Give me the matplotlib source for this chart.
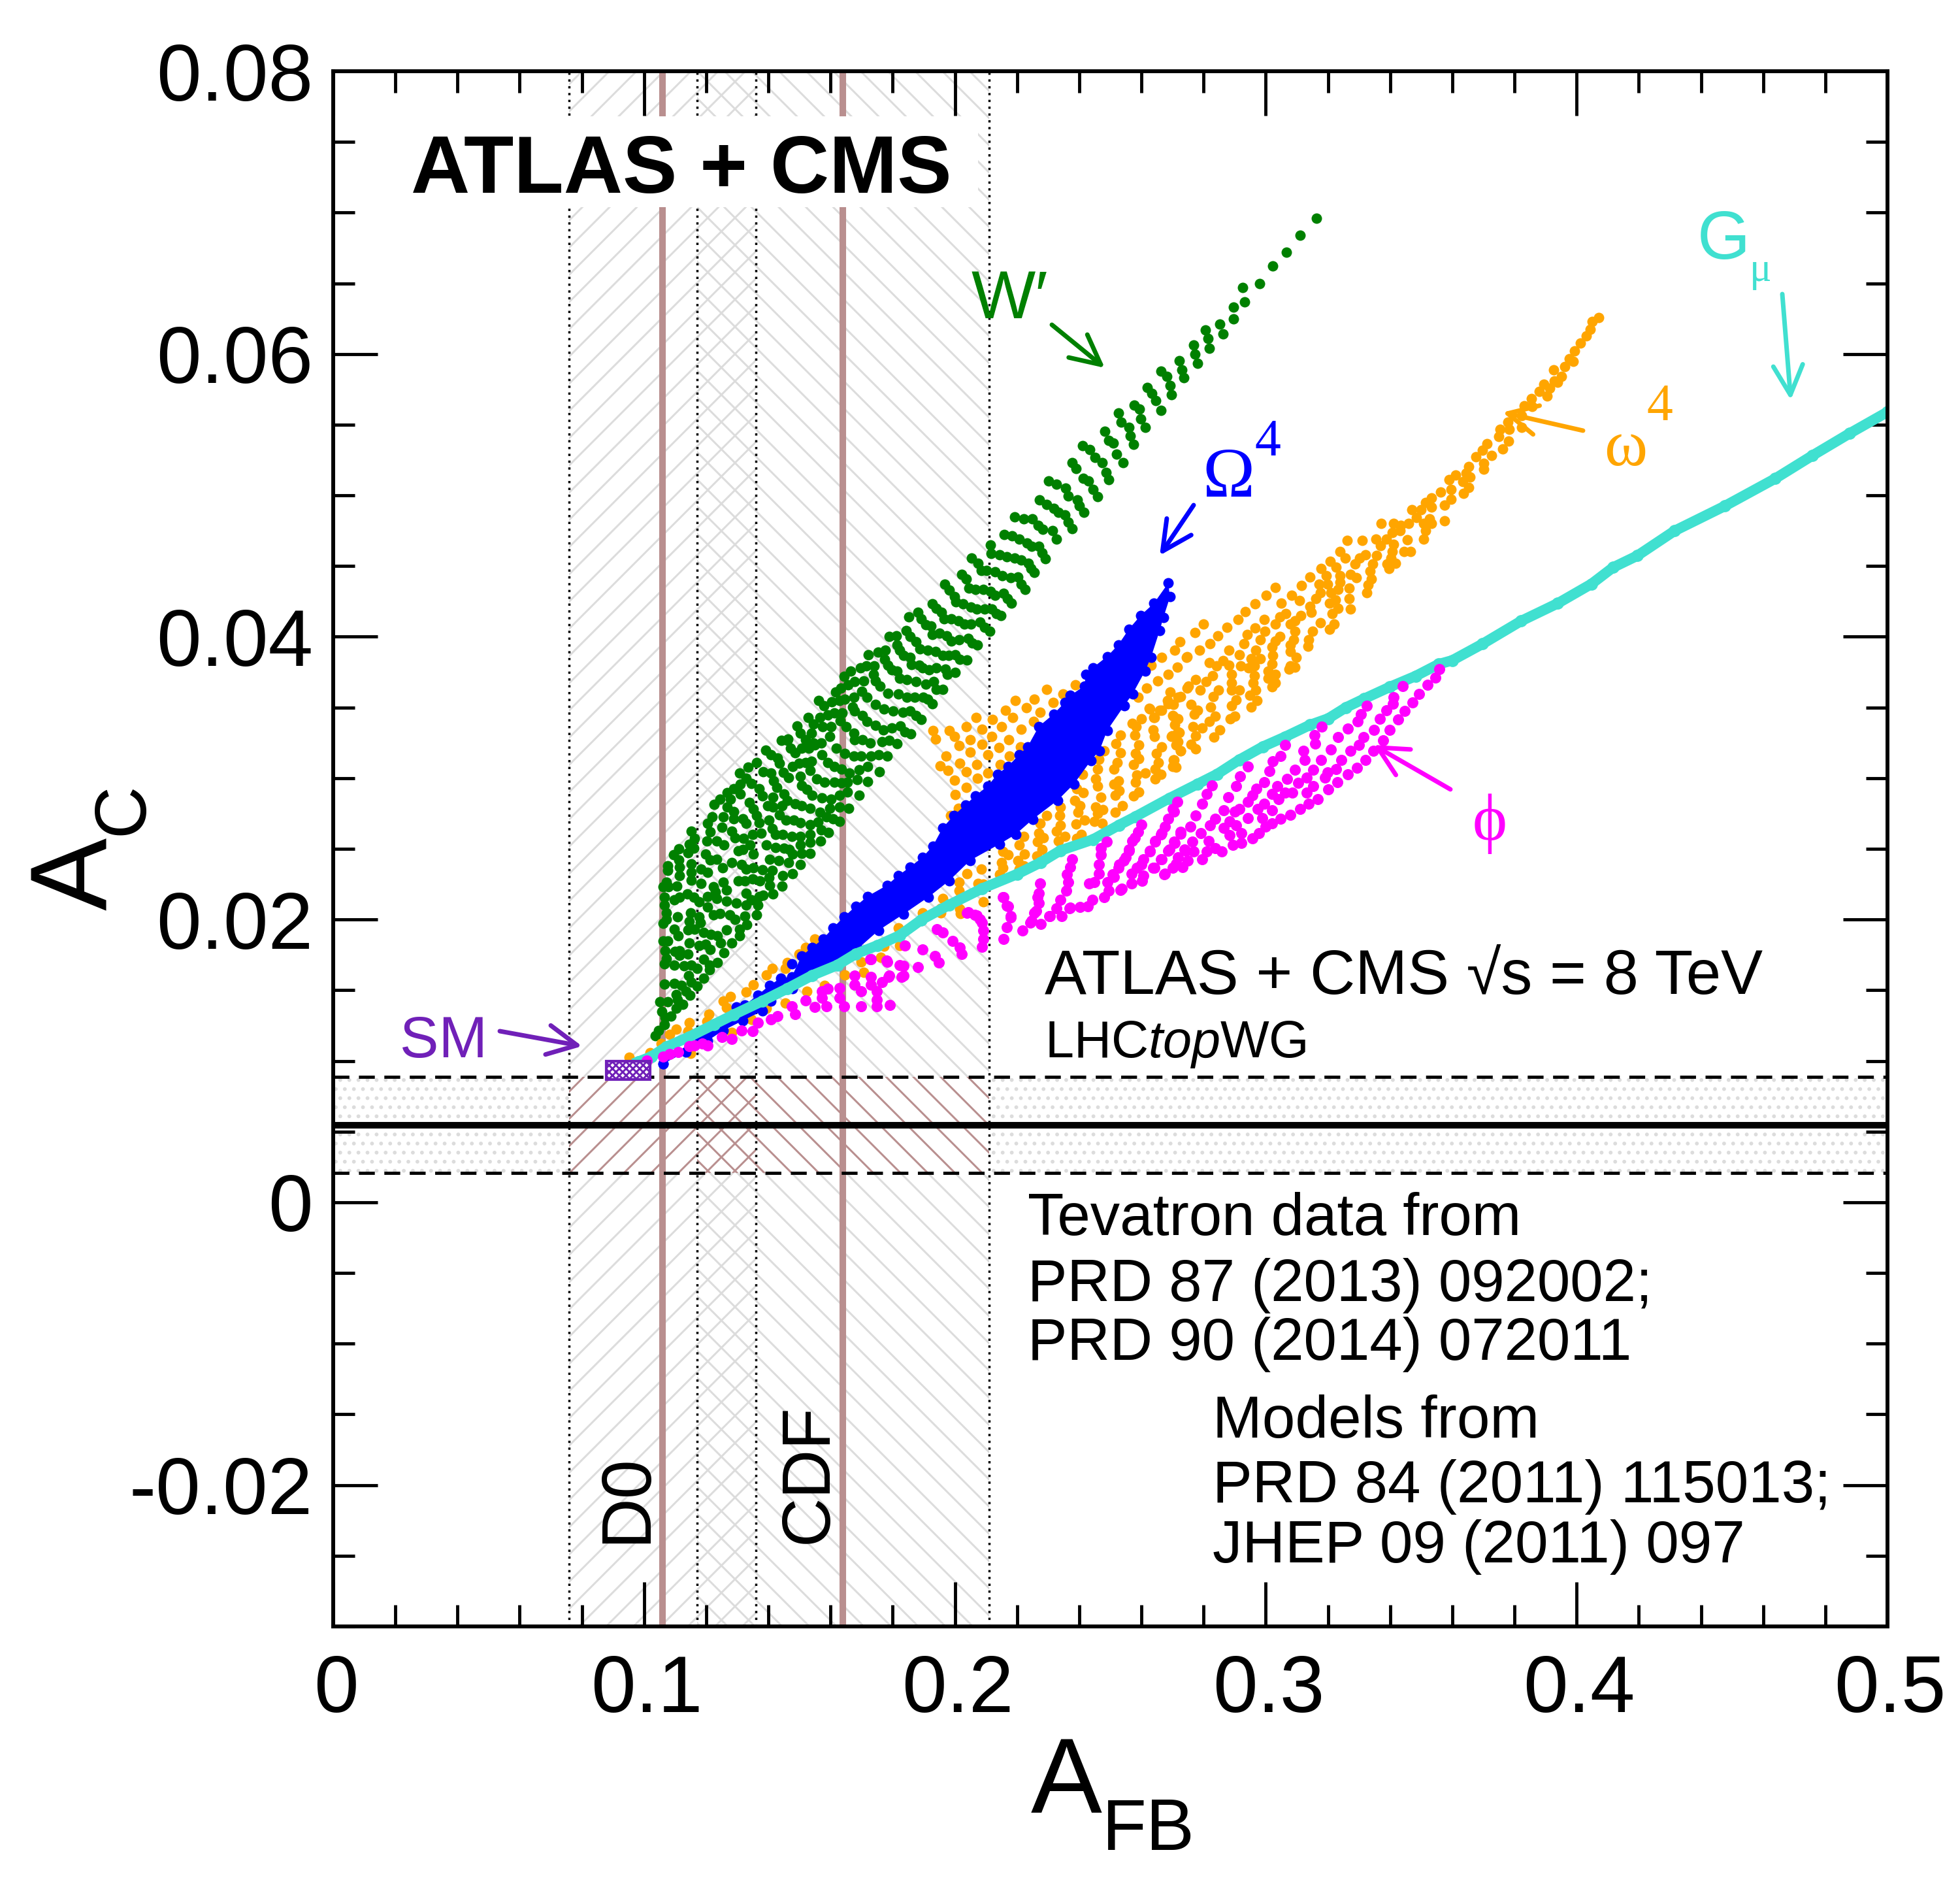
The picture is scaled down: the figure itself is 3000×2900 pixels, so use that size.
import numpy as np
import matplotlib
matplotlib.use("Agg")
import matplotlib.pyplot as plt
from matplotlib.patches import Rectangle
from matplotlib.transforms import ScaledTranslation

plt.rcParams['font.family'] = ['Liberation Sans', 'DejaVu Sans']
plt.rcParams['axes.unicode_minus'] = False
plt.rcParams['hatch.linewidth'] = 0.86
plt.rcParams['mathtext.fontset'] = 'custom'
plt.rcParams['mathtext.rm'] = 'Liberation Sans'
plt.rcParams['mathtext.it'] = 'Liberation Sans:italic'

# measured bands and lines
d0_central, d0_low, d0_high = 0.106, 0.0759, 0.136
cdf_central, cdf_low, cdf_high = 0.164, 0.117, 0.211
lhc_central, lhc_low, lhc_high = 0.00546, 0.00208, 0.00888
sm_box = (0.0878, 0.102, 0.0087, 0.0100)

x_ticks = [0, 0.1, 0.2, 0.3, 0.4, 0.5]
x_tick_labels = ['0', '0.1', '0.2', '0.3', '0.4', '0.5']
y_ticks = [-0.02, 0, 0.02, 0.04, 0.06, 0.08]
y_tick_labels = ['-0.02', '0', '0.02', '0.04', '0.06', '0.08']

# model scans, (A_FB, A_C)
wprime = [
(.3163,.06959),(.3111,.06839),(.3066,.06719),(.3022,.06622),(.2980,.06497),(.2926,.06469),(.2932,.06367),(.2896,.06330),(.2896,.06247),
(.2852,.06210),(.2862,.06141),(.2806,.06168),(.2814,.06108),(.2818,.06039),(.2768,.06062),(.2772,.05997),(.2781,.05933),
(.2722,.05951),(.2730,.05886),(.2736,.05831),(.2663,.05877),(.2682,.05840),(.2692,.05775),(.2696,.05711),(.2619,.05762),
(.2633,.05720),(.2646,.05669),(.2663,.05600),(.2577,.05637),(.2594,.05609),(.2598,.05540),(.2612,.05480),(.2526,.05582),
(.2535,.05517),(.2560,.05480),(.2564,.05420),(.2575,.05360),(.2482,.05452),(.2495,.05387),(.2509,.05369),(.2520,.05290),
(.2541,.05230),(.2411,.05350),(.2434,.05322),(.2451,.05267),(.2474,.05230),(.2486,.05160),(.2495,.05110),(.2377,.05230),
(.2390,.05188),(.2413,.05119),(.2430,.05100),(.2444,.05040),(.2459,.04990),(.2301,.05100),(.2327,.05077),(.2356,.05049),
(.2364,.04998),(.2394,.04970),(.2400,.04925),(.2415,.04878),(.2272,.04966),(.2295,.04938),(.2318,.04906),(.2333,.04878),
(.2354,.04860),(.2364,.04809),(.2377,.04767),(.2192,.04846),(.2221,.04832),(.2249,.04832),(.2268,.04786),(.2282,.04758),
(.2314,.04749),(.2327,.04693),(.2158,.04721),(.2184,.04712),(.2207,.04689),(.2232,.04661),(.2247,.04638),(.2270,.04638),
(.2280,.04596),(.2291,.04550),(.2114,.04647),(.2116,.04587),(.2144,.04582),(.2167,.04564),(.2192,.04555),(.2213,.04541),
(.2236,.04518),(.2245,.04485),(.2255,.04453),(.2053,.04559),(.2074,.04518),(.2085,.04467),(.2102,.04471),(.2129,.04458),
(.2152,.04430),(.2180,.04420),(.2203,.04425),(.2213,.04370),(.2226,.04337),(.2022,.04439),(.2037,.04407),(.2045,.04346),
(.2066,.04337),(.2091,.04337),(.2114,.04323),(.2129,.04291),(.2156,.04305),(.2169,.04268),(.2182,.04236),(.1967,.04370),
(.1982,.04328),(.1999,.04286),(.2003,.04245),(.2026,.04231),(.2051,.04208),(.2070,.04194),(.2095,.04198),(.2119,.04194),
(.2133,.04162),(.2148,.04148),(.1927,.04231),(.1940,.04203),(.1957,.04171),(.1965,.04125),(.1988,.04129),(.2011,.04111),
(.2030,.04088),(.2051,.04088),(.2081,.04102),(.2095,.04065),(.2112,.04037),(.1852,.04139),(.1881,.04171),(.1892,.04129),
(.1906,.04083),(.1923,.04074),(.1927,.04014),(.1950,.04023),(.1974,.04009),(.1988,.03968),(.2013,.03977),(.2043,.03986),
(.2055,.03954),(.2072,.03940),(.1789,.04000),(.1812,.04009),(.1843,.04046),(.1856,.04000),(.1875,.03963),(.1887,.03912),
(.1913,.03907),(.1938,.03898),(.1961,.03870),(.1980,.03870),(.2001,.03875),(.2016,.03842),(.2039,.03838),(.1721,.03875),
(.1753,.03893),(.1776,.03907),(.1814,.03944),(.1822,.03907),(.1835,.03870),(.1856,.03852),(.1860,.03805),(.1885,.03801),
(.1896,.03782),(.1917,.03768),(.1940,.03778),(.1969,.03773),(.1976,.03732),(.2001,.03750),(.1665,.03759),(.1644,.03718),
(.1696,.03778),(.1715,.03792),(.1740,.03796),(.1774,.03842),(.1784,.03801),(.1797,.03768),(.1814,.03755),(.1822,.03704),
(.1845,.03699),(.1875,.03685),(.1906,.03667),(.1931,.03685),(.1940,.03630),(.1961,.03630),(.1616,.03607),(.1633,.03639),
(.1656,.03662),(.1677,.03681),(.1707,.03690),(.1738,.03732),(.1745,.03690),(.1759,.03653),(.1784,.03602),(.1818,.03597),
(.1845,.03570),(.1871,.03570),(.1898,.03574),(.1913,.03560),(.1927,.03528),(.1562,.03547),(.1578,.03510),(.1604,.03542),
(.1629,.03551),(.1646,.03560),(.1675,.03570),(.1700,.03616),(.1717,.03574),(.1745,.03523),(.1772,.03491),(.1801,.03477),
(.1833,.03468),(.1856,.03473),(.1875,.03445),(.1892,.03417),(.1528,.03431),(.1545,.03385),(.1566,.03431),(.1591,.03449),
(.1612,.03463),(.1637,.03463),(.1671,.03505),(.1677,.03473),(.1702,.03445),(.1717,.03399),(.1745,.03375),(.1770,.03343),
(.1797,.03357),(.1824,.03371),(.1839,.03329),(.1858,.03315),(.1492,.03371),(.1503,.03320),(.1520,.03274),(.1538,.03320),
(.1574,.03362),(.1602,.03362),(.1631,.03408),(.1650,.03362),(.1675,.03320),(.1677,.03274),(.1702,.03274),(.1728,.03251),
(.1765,.03260),(.1789,.03269),(.1814,.03246),(.1461,.03269),(.1597,.03297),(.1545,.03251),(.1570,.03251),
(.1442,.03269),(.1463,.03278),(.1471,.03214),(.1486,.03181),(.1507,.03214),(.1530,.03214),(.1549,.03237),(.1572,.03167),
(.1591,.03112),(.1612,.03084),(.1635,.03066),(.1660,.03038),(.1618,.03214),(.1646,.03177),(.1675,.03158),(.1698,.03154),
(.1730,.03158),(.1755,.03167),(.1782,.03154),(.1391,.03200),(.1408,.03167),(.1429,.03144),(.1435,.03107),(.1448,.03043),
(.1465,.03006),(.1477,.03084),(.1498,.03107),(.1520,.03112),(.1538,.03121),(.1534,.03056),(.1503,.03015),(.1507,.02950),
(.1524,.02922),(.1541,.02881),(.1555,.02996),(.1580,.02973),(.1612,.02973),(.1635,.02969),(.1654,.02973),(.1692,.03061),
(.1719,.03084),(.1757,.03047),(.1686,.02992),(.1719,.02978),(.1572,.02862),(.1602,.02853),(.1629,.02881),(.1654,.02904),
(.1692,.02881),(.1597,.02788),(.1629,.02797),(.1658,.02788),(.1566,.02760),(.1587,.02728),(.1608,.02714),(.1629,.02696),
(.1362,.03112),(.1383,.03047),(.1408,.03038),(.1417,.02982),(.1427,.02936),(.1335,.03079),(.1307,.03038),(.1328,.03001),
(.1345,.02964),(.1370,.02927),(.1381,.02876),(.1398,.02807),(.1309,.02959),(.1288,.02927),(.1267,.02899),(.1414,.02867),
(.1450,.02890),(.1461,.02844),(.1486,.02821),(.1507,.02807),(.1534,.02788),(.1414,.02797),(.1444,.02807),(.1435,.02742),
(.1456,.02705),(.1482,.02705),(.1503,.02686),(.1244,.02853),(.1225,.02816),(.1278,.02853),(.1267,.02797),(.1288,.02765),
(.1288,.02714),(.1318,.02714),(.1328,.02682),(.1309,.02890),(.1339,.02830),(.1351,.02784),(.1362,.02737),(.1370,.02686),
(.1402,.02705),(.1412,.02645),(.1423,.02603),(.1446,.02603),(.1475,.02589),(.1503,.02589),(.1534,.02603),(.1534,.02673),
(.1559,.02691),(.1593,.02617),(.1570,.02636),(.1534,.02548),(.1568,.02557),(.1219,.02728),(.1204,.02682),(.1255,.02728),
(.1250,.02654),(.1282,.02626),(.1293,.02580),(.1320,.02576),(.1349,.02603),(.1377,.02613),(.1213,.02622),(.1202,.02557),
(.1234,.02557),(.1257,.02529),(.1393,.02529),(.1423,.02511),(.1450,.02506),(.1467,.02497),(.1503,.02529),(.1507,.02469),
(.1534,.02469),(.1477,.02465),(.1152,.02626),(.1162,.02576),(.1145,.02534),(.1160,.02506),(.1141,.02474),(.1112,.02502),
(.1095,.02460),(.1112,.02423),(.1198,.02465),(.1213,.02423),(.1234,.02428),(.1253,.02367),(.1282,.02404),(.1303,.02488),
(.1318,.02497),(.1341,.02529),(.1351,.02465),(.1404,.02428),(.1433,.02418),(.1446,.02312),(.1477,.02326),(.1503,.02391),
(.1465,.02404),(.1314,.02391),(.1328,.02358),(.1351,.02367),(.1381,.02354),(.1412,.02349),(.1402,.02298),(.1303,.02275),
(.1324,.02275),(.1349,.02289),(.1372,.02275),(.1404,.02243),(.1444,.02238),(.1414,.02182),(.1383,.02173),(.1370,.02164),
(.1076,.02381),(.1076,.02349),(.1114,.02372),(.1152,.02395),(.1152,.02335),(.1114,.02312),(.1183,.02358),(.1204,.02335),
(.1072,.02266),(.1061,.02233),(.1078,.02233),(.1105,.02238),(.1152,.02280),(.1183,.02257),(.1223,.02233),(.1255,.02266),
(.1265,.02210),(.1139,.02182),(.1160,.02159),(.1177,.02127),(.1204,.02164),(.1097,.02141),(.1114,.02159),(.1066,.02159),
(.1066,.02104),(.1072,.02048),(.1072,.02002),(.1061,.01974),(.1229,.02196),(.1234,.02150),(.1265,.02132),(.1297,.02118),
(.1328,.02104),(.1366,.02104),(.1328,.02187),(.1345,.02141),(.1204,.02090),(.1223,.02034),(.1244,.02044),(.1276,.02034),
(.1293,.02002),(.1324,.02025),(.1362,.02034),(.1330,.01965),(.1307,.01933),(.1108,.02020),(.1150,.02048),(.1145,.01988),
(.1177,.02020),(.1181,.01979),(.1097,.01933),(.1110,.01887),(.1141,.01928),(.1162,.01933),(.1192,.01910),(.1215,.01896),
(.1236,.01887),(.1246,.01836),(.1257,.01766),(.1282,.01836),(.1265,.01928),(.1307,.01887),(.1061,.01850),(.1076,.01850),
(.1145,.01836),(.1177,.01817),(.1198,.01826),(.1213,.01789),(.1099,.01776),(.1114,.01780),(.1114,.01748),(.1141,.01757),
(.1068,.01780),(.1072,.01725),(.1066,.01688),(.1097,.01678),(.1129,.01674),(.1152,.01678),(.1192,.01720),(.1211,.01678),
(.1236,.01697),(.1171,.01655),(.1211,.01646),(.1143,.01604),(.1152,.01558),(.1171,.01531),(.1192,.01586),(.1066,.01544),
(.1097,.01549),(.1120,.01535),(.1135,.01494),(.1148,.01466),(.1103,.01471),(.1108,.01433),(.1124,.01401),(.1103,.01373),
(.1051,.01420),(.1076,.01420),(.1057,.01350),(.1068,.01308),(.1087,.01318),(.1066,.01258),(.1047,.01216),(.1036,.01179)
]

omega4 = [
(.1929,.03338),(.1938,.03278),(.1982,.03338),(.1999,.03297),(.2037,.03362),(.2049,.03274),(.2013,.03228),(.2087,.03348),
(.2087,.03241),(.2068,.03431),(.2121,.03417),(.2150,.03366),(.2119,.03297),(.2173,.03274),(.2142,.03218),(.2106,.03167),
(.2049,.03186),(.1971,.03158),(.1953,.03089),(.1978,.03056),(.2016,.03107),(.2070,.03098),(.2037,.03047),(.2106,.03038),
(.2072,.03001),(.1999,.02987),(.2037,.02936),(.2001,.02885),(.2146,.03098),(.2175,.03158),(.2213,.03348),(.2186,.03431),
(.2163,.03482),(.2194,.03547),(.2230,.03500),(.2255,.03560),(.2274,.03468),(.2253,.03399),(.2295,.03630),(.2316,.03537),
(.2348,.03597),(.2387,.03662),(.2211,.03223),(.2011,.02788),(.1986,.02737),(.2589,.03574),(.2617,.03639),(.2652,.03690),
(.2686,.03732),(.2715,.03787),(.2692,.03607),(.2631,.03801),(.2665,.03856),(.2707,.03907),(.2745,.03856),(.2724,.03967),
(.2570,.03389),(.2583,.03362),(.2579,.03306),(.2591,.03237),(.2581,.03177),(.2591,.03140),(.2575,.03098),(.2600,.03422),
(.2627,.03491),(.2642,.03431),(.2665,.03482),(.2686,.03528),(.2717,.03574),(.2747,.03639),(.2638,.03343),(.2642,.03297),
(.2701,.03445),(.2707,.03376),(.2717,.03329),(.2696,.03297),(.2711,.03237),(.2726,.03191),(.2705,.03130),(.2701,.03084),
(.2665,.03223),(.2648,.03177),(.2654,.03112),(.2644,.03066),(.2663,.03029),(.2644,.02996),(.2612,.03038),(.2585,.03020),
(.2581,.02973),(.2591,.02904),(.2575,.02876),(.2533,.03306),(.2518,.03246),(.2533,.03181),(.2522,.03112),(.2512,.03066),
(.2526,.02982),(.2512,.02959),(.2528,.02913),(.2516,.02881),(.2539,.02807),(.2516,.02760),(.2480,.03191),(.2463,.03135),
(.2459,.03066),(.2453,.02996),(.2459,.02945),(.2470,.02867),(.2453,.02797),(.2476,.02779),(.2459,.02751),(.2474,.02682),
(.2448,.02696),(.2411,.03029),(.2392,.02927),(.2413,.02899),(.2385,.02844),(.2402,.02807),(.2396,.02760),(.2417,.02705),
(.2390,.02677),(.2406,.02603),(.2392,.02576),(.2295,.02737),(.2339,.02797),(.2337,.02737),(.2339,.02668),(.2327,.02626),
(.2354,.02589),(.2333,.02557),(.2274,.02682),(.2270,.02613),(.2285,.02580),(.2266,.02552),(.2280,.02497),(.2264,.02451),
(.2222,.02589),(.2207,.02529),(.2224,.02465),(.2203,.02418),(.2222,.02381),(.2207,.02358),(.2154,.02483),(.2171,.02460),
(.2150,.02404),(.2154,.02367),(.2144,.02321),(.2085,.02358),(.2074,.02257),(.2091,.02252),(.2039,.02326),(.2013,.02266),
(.2013,.02206),(.2011,.02141),(.1961,.02150),(.1955,.02081),(.1896,.02048),(.2018,.02044),(.2091,.02127),(.1955,.02048),
(.2016,.02076),
(.4071,.06256),(.4050,.06229),(.4044,.06173),(.4031,.06127),(.4012,.06076),(.3993,.06020),(.3976,.05965),(.3989,.05947),
(.3962,.05910),(.3926,.05886),(.3951,.05840),(.3928,.05808),(.3894,.05785),(.3939,.05798),(.3880,.05734),(.3905,.05701),
(.3913,.05757),(.3855,.05683),(.3831,.05632),(.3857,.05627),(.3823,.05563),(.3823,.05479),(.3779,.05516),(.3754,.05466),
(.3749,.05415),(.3783,.05466),(.3781,.05382),(.3762,.05327),(.3712,.05364),(.3697,.05318),(.3726,.05281),(.3676,.05271),
(.3653,.05202),(.3701,.05225),(.3701,.05183),(.3644,.05156),(.3657,.05128),(.3611,.05142),(.3590,.05110),(.3634,.05096),
(.3653,.05054),(.3636,.05012),(.3596,.05040),(.3562,.05022),(.3596,.04971),(.3575,.04929),(.3533,.04980),(.3514,.04948),
(.3533,.04915),(.3499,.04897),(.3470,.04901),(.3575,.04818),(.3485,.04841),(.3527,.04832),(.3533,.04800),(.3508,.04800),
(.3459,.04800),(.3514,.04749),(.3508,.04693),(.3411,.04800),(.3434,.04786),(.3432,.04749),(.3371,.04800),(.3407,.04735),
(.3388,.04693),(.3354,.04693),(.3310,.04680),(.3262,.04680),(.3455,.04684),(.3466,.04601),(.3445,.04601),(.3411,.04652),
(.3407,.04601),(.3403,.04555),(.3417,.04518),(.3390,.04513),(.3396,.04481),(.3369,.04643),(.3356,.04573),(.3321,.04582),
(.3302,.04555),(.3344,.04513),(.3287,.04513),(.3335,.04462),(.3340,.04407),(.3272,.04439),(.3291,.04416),(.3329,.04365),
(.3325,.04310),(.3239,.04601),(.3256,.04555),(.3207,.04532),(.3226,.04490),(.3178,.04481),(.3239,.04434),(.3195,.04434),
(.3142,.04421),(.3115,.04361),(.3171,.04374),(.3199,.04374),(.3239,.04384),(.3232,.04333),(.3268,.04342),(.3209,.04310),
(.3176,.04310),(.3268,.04268),(.3161,.04268),(.3142,.04217),(.3083,.04291),(.3108,.04254),(.3050,.04236),(.3224,.04259),
(.3205,.04236),(.3232,.04203),(.3213,.04162),(.3272,.04194),(.3146,.04171),(.3113,.04152),(.3094,.04111),(.3064,.04162),
(.3045,.04143),(.3031,.04088),(.3079,.04088),(.3176,.04097),(.3220,.04088),(.3205,.04055),(.3150,.04037),(.3138,.03981),
(.3136,.03935),(.3031,.04351),(.3001,.04291),(.2966,.04231),(.2934,.04180),(.2911,.04120),(.2875,.04069),(.2846,.04009),
(.2821,.03949),(.2995,.04120),(.2966,.04060),(.2940,.04018),(.2787,.03903),(.2747,.03861),(.2799,.04088),(.2772,.04028),
(.2997,.04037),(.2982,.03981),(.3045,.04004),(.3020,.03930),(.3031,.03972),(.2930,.03949),(.2968,.03907),(.2881,.03907),
(.2915,.03875),(.2953,.03843),(.2982,.03843),(.3022,.03866),(.3020,.03810),(.3079,.03940),(.3079,.03898),(.3098,.03856),
(.3090,.03981),(.3094,.04037),(.3079,.03792),(.3075,.03773),(.3094,.03787),(.2862,.03833),(.2881,.03801),(.2818,.03819),
(.2841,.03792),(.2919,.03792),(.2890,.03736),(.2963,.03792),(.2963,.03727),(.2944,.03782),(.2959,.03676),(.2968,.03621),
(.2949,.03588),(.2972,.03547),(.2953,.03505),(.3008,.03759),(.3031,.03736),(.3008,.03708),(.3031,.03676),(.3020,.03648),
(.2829,.03727),(.2808,.03685),(.2774,.03695),(.2751,.03653),(.2789,.03621),(.2726,.03579),(.2703,.03523),(.2684,.03547),
(.2659,.03482),(.2640,.03431),(.2625,.03496),(.2890,.03676),(.2915,.03625),(.2890,.03621),(.2905,.03556),(.2890,.03514),
(.2900,.03440),(.2886,.03422),(.2848,.03621),(.2831,.03579),(.2823,.03505),(.2837,.03440),(.2818,.03399),(.2852,.03343),
(.2833,.03292),(.2760,.03523),(.2781,.03482),(.2770,.03450),(.2795,.03357),(.2766,.03362),(.2774,.03301),(.2760,.03241),
(.2774,.03209),(.2703,.03440),(.2717,.03422),(.2722,.03325),(.2699,.03301),(.2717,.03260),(.2726,.03195),(.2703,.03130),
(.2711,.03080),
(.0952,.01026),(.1019,.01059),(.1055,.01124),(.1082,.01188),(.1103,.01225),(.1145,.01272),(.1141,.01211),(.1208,.01332),
(.1202,.01281),(.1255,.01424),(.1278,.01457),(.1265,.01378),(.1328,.01489),(.1351,.01540),(.1393,.01609),(.1412,.01655),
(.1461,.01697),(.1454,.01655),(.1498,.01757),(.1520,.01803),(.1549,.01863),(.1150,.01054),(.1282,.01202),(.1345,.01295),
(.1393,.01373),(.1454,.01410),(.1524,.01494),(.1580,.01535),(.1646,.01609),(.1707,.01628),(.1698,.01702),(.1761,.01734),
(.1772,.01813),(.1822,.01817),(.1818,.01942)
]

# the blue scan is so dense it reads as one solid cloud, kept here as its outline
omega_big4_outline = [
(.1061,.00980),(.1297,.01383),(.1324,.01396),(.1366,.01466),(.1404,.01535),(.1440,.01586),(.1475,.01595),(.1507,.01743),
(.1541,.01803),(.1576,.01863),(.1608,.01942),(.1644,.02020),(.1681,.02095),(.1719,.02164),(.1782,.02243),(.1818,.02312),
(.1856,.02372),(.1896,.02441),(.1929,.02520),(.1961,.02650),(.1997,.02737),(.2034,.02811),(.2066,.02876),(.2106,.02945),
(.2137,.03029),(.2171,.03084),(.2207,.03167),(.2234,.03223),(.2270,.03366),(.2318,.03454),(.2354,.03537),(.2371,.03584),
(.2417,.03653),(.2421,.03732),(.2444,.03782),(.2490,.03861),(.2526,.03944),(.2560,.04055),(.2598,.04152),(.2640,.04236),
(.2686,.04379),(.2692,.04282),(.2671,.04138),(.2659,.04046),(.2631,.03856),(.2612,.03759),(.2572,.03597),(.2545,.03514),
(.2490,.03338),(.2465,.03195),(.2438,.03126),(.2383,.02959),(.2331,.02844),(.2251,.02710),(.2196,.02603),(.2144,.02534),
(.2049,.02418),(.1982,.02275),(.1915,.02159),(.1835,.02039),(.1755,.01924),(.1688,.01794),(.1541,.01618),(.1477,.01512),
(.1408,.01424),(.1381,.01355),(.1318,.01285),(.1255,.01216),(.1204,.01142),(.1135,.01063),(.1061,.00980)
]
omega_big4_extra = [(.1475,.01688)]

g_mu = [
(.0981,.00994),(.1024,.01031),(.1072,.01100),(.1145,.01170),(.1225,.01258),(.1288,.01327),(.1381,.01424),(.1461,.01512),
(.1541,.01605),(.1622,.01678),(.1681,.01757),(.1751,.01817),(.1822,.01887),(.1892,.01998),(.1982,.02104),(.2087,.02219),
(.2200,.02321),(.2276,.02404),(.2339,.02488),(.2444,.02566),(.2528,.02668),(.2581,.02728),(.2690,.02858),(.2781,.02959),
(.2844,.03029),(.2915,.03130),(.2991,.03223),(.3062,.03292),(.3142,.03376),(.3201,.03422),(.3258,.03500),(.3316,.03561),
(.3398,.03644),(.3482,.03722),(.3556,.03806),(.3600,.03833),(.3697,.03949),(.3821,.04111),(.3939,.04236),(.4048,.04374),
(.4117,.04490),(.4195,.04573),(.4315,.04749),(.4477,.04925),(.4639,.05119),(.4758,.05281),(.4878,.05438),(.5000,.05590)
]

phi = [
(.1009,.01003),(.1061,.01031),(.1082,.01050),(.1110,.01063),(.1145,.01105),(.1162,.01110),(.1187,.01124),(.1204,.01110),
(.1250,.01170),(.1282,.01156),(.1314,.01216),(.1349,.01211),(.1366,.01272),(.1408,.01295),(.1429,.01318),(.1475,.01387),
(.1486,.01332),(.1520,.01429),(.1549,.01383),(.1587,.01387),(.1572,.01447),(.1572,.01494),(.1591,.01512),(.1629,.01447),
(.1629,.01517),(.1644,.01387),(.1677,.01605),(.1677,.01540),(.1698,.01494),(.1698,.01387),(.1730,.01595),(.1730,.01540),
(.1749,.01494),(.1749,.01433),(.1749,.01387),(.1791,.01396),(.1765,.01558),(.1786,.01595),(.1730,.01720),(.1782,.01702),
(.1822,.01678),(.1828,.01595),(.2039,.02048),(.2064,.02034),(.2081,.02002),(.2154,.02159),(.2171,.02095),(.2179,.02025),
(.2274,.02257),(.2270,.02187),(.2270,.02118),(.2255,.02048),(.2306,.02025),(.2327,.02081),(.2339,.02141),(.2358,.02206),
(.2364,.02266),(.2360,.02321),(.2371,.02372),(.2377,.02428),(.2369,.02081),(.2402,.02090),(.2427,.02095),(.2442,.02141),
(.2432,.02257),(.2448,.02266),(.2463,.02326),(.2463,.02391),(.2470,.02460),(.2470,.02506),(.2488,.02552),(.2480,.02159),
(.2495,.02206),(.2490,.02266),(.2507,.02321),(.2528,.02391),(.2549,.02441),(.2560,.02497),(.2570,.02557),(.2589,.02622),
(.2600,.02673),(.2537,.02219),(.2568,.02257),(.2602,.02275),(.2568,.02326),(.2600,.02391),(.2627,.02483),(.2644,.02552),
(.2665,.02613),(.2686,.02714),(.2701,.02784),(.2715,.02834),(.2638,.02367),(.2663,.02428),(.2690,.02497),(.2705,.02552),
(.2726,.02622),(.2673,.02321),(.2711,.02395),(.2732,.02372),(.2739,.02497),(.2579,.02580),(.2560,.02488),(.2543,.02418),
(.2526,.02367),(.2512,.02303),(.2705,.02765),(.2675,.02659),(.2663,.02603),(.2644,.02557),(.2627,.02488),(.2606,.02428),
(.2585,.02367),(.2827,.02950),(.2810,.02890),(.2795,.02821),(.2774,.02737),(.2757,.02659),(.2726,.02608),(.2707,.02543),
(.2686,.02488),(.2665,.02428),(.2642,.02367),(.2675,.02326),(.2606,.02312),(.2533,.02210),(.2942,.03084),(.2917,.03015),
(.2905,.02945),(.2879,.02867),(.2865,.02774),(.2837,.02714),(.2820,.02668),(.2791,.02613),(.2764,.02552),(.2743,.02488),
(.2768,.02483),(.2717,.02441),(.2749,.02418),(.2701,.02367),(.2795,.02428),(.2810,.02483),(.2816,.02557),(.2837,.02506),
(.2858,.02483),(.2894,.02529),(.2921,.02543),(.2957,.02576),(.2978,.02613),(.2999,.02659),(.3020,.02682),(.3047,.02714),
(.3079,.02742),(.3111,.02784),(.3138,.02821),(.3167,.02853),(.3201,.02922),(.3230,.02973),(.3264,.03029),(.3293,.03075),
(.3321,.03130),(.3346,.03191),(.3377,.03269),(.3062,.03237),(.3047,.03154),(.3022,.03121),(.3012,.03052),(.2995,.02973),
(.2970,.02927),(.2957,.02881),(.2942,.02834),(.2915,.02784),(.2900,.02765),(.2884,.02696),(.2865,.02650),(.2884,.02599),
(.2921,.02613),(.2905,.02668),(.2942,.02719),(.2974,.02784),(.2995,.02821),(.3020,.02774),(.3041,.02853),(.3062,.02899),
(.3085,.02899),(.3104,.02969),(.3132,.02899),(.3153,.02945),(.2989,.02719),(.3180,.03362),(.3157,.03306),(.3159,.03246),
(.3121,.03191),(.3125,.03130),(.3094,.03061),(.3068,.02996),(.3037,.02945),(.3020,.02890),(.3264,.03352),(.3232,.03292),
(.3209,.03204),(.3178,.03130),(.3153,.03061),(.3132,.03006),(.3325,.03514),(.3306,.03454),(.3295,.03399),(.3272,.03191),
(.3243,.03130),(.3226,.03066),(.3199,.03043),(.3190,.03006),(.3367,.03422),(.3348,.03343),(.3314,.03292),(.3300,.03237),
(.3440,.03653),(.3411,.03570),(.3409,.03524),(.3388,.03482),(.3558,.03769),(.3546,.03713),(.3520,.03662),(.3493,.03597),
(.3472,.03537),(.3447,.03477),(.3426,.03413),(.3398,.03343),
(.2043,.02053),(.2070,.02030),(.2087,.01979),(.2091,.01924),(.2091,.01863),(.2087,.01808),(.2156,.02159),(.2167,.02099),
(.2179,.02016),(.2167,.01947),(.2156,.01863),(.2217,.01924),(.2242,.01979),(.2276,.01970),(.2266,.02159),(.2261,.02062),
(.2247,.01993),(.2303,.02025),(.2343,.02025),(.2371,.02085),(.1942,.01933),(.1961,.01910),(.1992,.01850),(.2016,.01803),
(.2022,.01757),(.1839,.01817),(.1896,.01789),(.1881,.01665),(.1936,.01743),(.1948,.01697),(.1780,.01711),(.1835,.01674),
(.1728,.01720),(.1789,.01605),(.1835,.01605)
]

fig = plt.figure(figsize=(12, 11.6), dpi=250)
ax = fig.add_axes([510 / 3000, 1 - 2489 / 2900, 2379 / 3000, 2380 / 2900])
ax.set_xlim(0, 0.5)
ax.set_ylim(-0.03, 0.08)


def hatch_box(x0, x1, y0, y1, color, hatch):
    ax.fill_between([x0, x1], y0, y1, facecolor='none', edgecolor=color,
                    hatch=hatch, linewidth=0, zorder=1)


grey = '#dcdcdc'
rosy = '#b98f8f'
for low, high, h in [(d0_low, d0_high, '//'), (cdf_low, cdf_high, '\\\\')]:
    hatch_box(low, high, -0.03, lhc_low, grey, h)
    hatch_box(low, high, lhc_high, 0.08, grey, h)
    hatch_box(low, high, lhc_low, lhc_high, rosy, h)
hatch_box(0, d0_low, lhc_low, lhc_high, grey, '...')
hatch_box(cdf_high, 0.5, lhc_low, lhc_high, grey, '...')

dot_lw = 1.0
for xv in [d0_low, d0_high, cdf_low]:
    ax.axvline(xv, color='k', lw=dot_lw, ls=(0, (1, 2)), zorder=1.1)
ax.axvline(d0_central, color=rosy, lw=2.9, zorder=1.1)
ax.axvline(cdf_central, color=rosy, lw=2.9, zorder=1.1)
# white box behind the title cuts the bands
ax.add_patch(Rectangle((0.06, 0.0704), 0.1475, 0.0064, fc='white', ec='none', zorder=1.2))
ax.axvline(cdf_high, color='k', lw=dot_lw, ls=(0, (1, 2)), zorder=1.3)

ax.axhline(lhc_central, color='k', lw=2.9, zorder=3)
for yv in [lhc_low, lhc_high]:
    ax.axhline(yv, color='k', lw=1.4, ls=(0, (5, 3)), zorder=3)

ms = 4.6
pts = np.array(wprime)
ax.plot(pts[:, 0], pts[:, 1], 'o', color='#008000', ms=ms, mew=0, zorder=4)
pts = np.array(omega4)
ax.plot(pts[:, 0], pts[:, 1], 'o', color='#ffa500', ms=ms, mew=0, zorder=5)
pts = np.array(omega_big4_outline)
ax.fill(pts[:, 0], pts[:, 1], color='#0000ff', lw=0, zorder=6)
ax.plot(pts[:, 0], pts[:, 1], 'o', color='#0000ff', ms=ms, mew=0, zorder=6)
pts = np.array(omega_big4_extra)
ax.plot(pts[:, 0], pts[:, 1], 'o', color='#0000ff', ms=ms, mew=0, zorder=6)
pts = np.array(g_mu)
ax.plot(pts[:, 0], pts[:, 1], '-o', color='#40e0d0', lw=4.6, ms=5.4, mew=0, zorder=7)
pts = np.array(phi)
ax.plot(pts[:, 0], pts[:, 1], 'o', color='#ff00ff', ms=4.9, mew=0, zorder=8)

purple = '#7020b8'
ax.add_patch(Rectangle((sm_box[0], sm_box[2]), sm_box[1] - sm_box[0], sm_box[3] - sm_box[2],
                       fc='white', ec=purple, lw=1.2, hatch='xxxxxxxx', zorder=9))

ax.set_xticks(x_ticks)
ax.set_xticklabels(x_tick_labels)
ax.set_yticks(y_ticks)
ax.set_yticklabels(y_tick_labels)
ax.set_xticks(np.arange(0, 0.5001, 0.02), minor=True)
ax.set_yticks(np.arange(-0.03, 0.0801, 0.005), minor=True)
ax.tick_params(which='major', direction='in', top=True, right=True, length=19.6, width=1.4,
               labelsize=35.5)
ax.tick_params(which='minor', direction='in', top=True, right=True, length=9.5, width=1.4)
ax.tick_params(axis='x', which='major', pad=12)
ax.tick_params(axis='y', which='major', pad=9)
for lbl in ax.get_xticklabels():
    lbl.set_transform(lbl.get_transform() + ScaledTranslation(1.2 / 72, 0, fig.dpi_scale_trans))
for s in ax.spines.values():
    s.set_linewidth(1.7)
    s.set_zorder(12)


def label(x, y, s, size, color='k', **kw):
    # position in pixels of the final image, baseline left
    fig.text(x / 3000, 1 - y / 2900, s, fontsize=size, color=color, ha='left', va='baseline',
             rotation_mode='anchor', **kw)


def arrow(x0, y0, x1, y1, color):
    ax.annotate('', xy=(x1 / 3000, 1 - y1 / 2900), xytext=(x0 / 3000, 1 - y0 / 2900),
                xycoords='figure fraction', textcoords='figure fraction', zorder=11,
                arrowprops=dict(arrowstyle='->,head_length=1.3,head_width=0.65', color=color,
                                lw=2.0, shrinkA=0, shrinkB=0))


serif = ['Liberation Serif', 'DejaVu Serif']
label(629, 295, 'ATLAS + CMS', 36, fontweight='bold')
label(1599, 1521, 'ATLAS + CMS √s = 8 TeV', 27.6)
label(1599, 1618, r'LHC$\mathit{top}$WG', 22.8)
label(1573, 1890, 'Tevatron data from', 26.1)
label(1573, 1991, 'PRD 87 (2013) 092002;', 26.1)
label(1573, 2081, 'PRD 90 (2014) 072011', 26.1)
label(1856, 2200, 'Models from', 26.2)
label(1856, 2299, 'PRD 84 (2011) 115013;', 26.2)
label(1856, 2391, 'JHEP 09 (2011) 097', 26.2)
label(988, 2362, 'D0', 31, rotation=90)
label(1266, 2362, 'CDF', 30, rotation=90)
label(1578, 2774, 'A', 47)
label(1687, 2831, 'FB', 32)
label(164, 1393, 'A', 48, rotation=90)
label(218, 1278, 'C', 32, rotation=90)
label(612, 1618, 'SM', 25.7, color=purple)
label(1487, 487, 'W′', 30, color='#008000')
label(1840, 760, 'Ω', 31, color='#0000ff', family=serif)
label(1920, 697, '4', 23, color='#0000ff', family=serif)
label(2455, 712, 'ω', 29, color='#ffa500', family=serif)
label(2521, 643, '4', 23, color='#ffa500', family=serif)
label(2254, 1285, '\u03d5', 29, color='#ff00ff', family=serif)
label(2598, 396, 'G', 30, color='#40e0d0')
label(2678, 430, 'μ', 18, color='#40e0d0', family=serif)

arrow(1610, 497, 1691, 563, '#008000')
arrow(1827, 773, 1775, 850, '#0000ff')
arrow(2423, 659, 2300, 631, '#ffa500')
arrow(2220, 1208, 2102, 1140, '#ff00ff')
arrow(2728, 450, 2741, 612, '#40e0d0')
arrow(765, 1578, 891, 1601, purple)

fig.savefig('out.png', dpi=250)
